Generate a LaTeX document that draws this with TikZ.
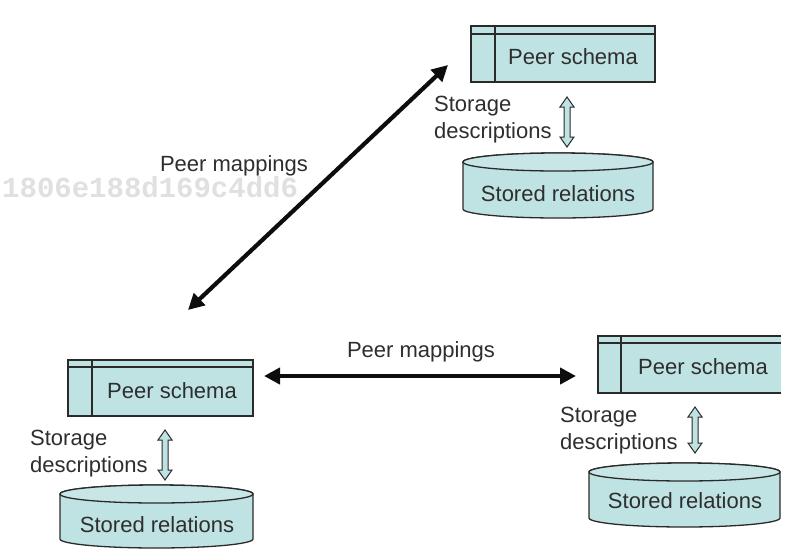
\documentclass[tikz,border=0pt]{standalone}
\usepackage{fontspec}
\setmainfont{Liberation Sans}
\newfontfamily\wmfont{Liberation Mono}
\usetikzlibrary{arrows.meta}
\definecolor{boxfill}{HTML}{BFE2E3}
\definecolor{edge}{HTML}{2A2A2A}
\definecolor{txt}{HTML}{2E2E2E}
\definecolor{wm}{HTML}{E0E0E0}
\tikzset{
  lab/.style={inner sep=0pt, text=txt, font=\fontsize{22}{27}\selectfont},
  outline/.style={draw=edge, line width=1.3pt},
  bigarrow/.style={draw=black!95, line width=4.2pt, {Triangle[length=16pt,width=16pt]}-{Triangle[length=16pt,width=16pt]}},
  hollowarrow/.style={fill=boxfill, draw=edge, line width=1pt, line join=miter}
}
\newcommand{\schemabox}[7]{% name, xl, xr, yt, yb, yheader, xvert
  \fill[boxfill] (#2,#4) rectangle (#3,#5);
  \draw[outline] (#2,#4) rectangle (#3,#5);
  \draw[outline] (#2,#6) -- (#3,#6);
  \draw[outline] (#7,#4) -- (#7,#5);
}
\newcommand{\cylshape}[5]{% xl, xr, ytop, ybottom, ry
  \pgfmathsetmacro{\cxa}{(#1+#2)/2}
  \pgfmathsetmacro{\rxa}{(#2-#1)/2}
  \pgfmathsetmacro{\yta}{#3+#5}
  \pgfmathsetmacro{\yba}{#4-#5}
  \path[fill=boxfill, outline] (#1,\yta) -- (#1,\yba) arc[start angle=180, end angle=0, x radius=\rxa, y radius=#5] -- (#2,\yta) arc[start angle=0, end angle=-180, x radius=\rxa, y radius=#5] -- cycle;
  \draw[outline, fill=boxfill!85!white] (\cxa,\yta) ellipse[x radius=\rxa, y radius=#5];
}
\newcommand{\dblarrow}[3]{% cx, cy, half length
  \draw[hollowarrow] (#1,#2-#3) -- ++(7,10) -- ++(-4,0) -- (#1+3,#2+#3-10) -- ++(4,0) -- (#1,#2+#3) -- ++(-7,-10) -- ++(4,0) -- (#1-3,#2-#3+10) -- ++(-4,0) -- cycle;
}
\begin{document}
\begin{tikzpicture}[x=1pt, y=-1pt]
\useasboundingbox (0,0) rectangle (809,550);
\fill[white] (0,0) rectangle (809,550);

% watermark
\node[inner sep=0pt, anchor=base west, text=wm, font=\wmfont\bfseries\fontsize{29}{30}\selectfont] (wmark) at (2,197) {1806e188d169c4dd6};

% top peer
\schemabox{ps1}{471}{655}{26}{82}{34}{495}
\node[lab] (ps1) at (573,57) {Peer schema};
\node[lab, align=left, anchor=west] (sd1) at (434,120) {Storage\\descriptions};
\dblarrow{567}{122}{25}
\cylshape{463}{653}{153}{218}{9}
\node[lab] (sr1) at (558,194) {Stored relations};

% bottom-left peer
\schemabox{ps2}{68}{253}{360}{416}{367}{92}
\node[lab] (ps2) at (172,391) {Peer schema};
\node[lab, align=left, anchor=west] (sd2) at (30,454) {Storage\\descriptions};
\dblarrow{165}{455}{25}
\cylshape{60}{253}{485}{548}{9}
\node[lab] (sr2) at (157,525) {Stored relations};

% bottom-right peer (right border not shown)
\fill[boxfill] (598,336) rectangle (781,393);
\draw[outline] (781,336) -- (598,336) -- (598,393) -- (781,393);
\draw[outline] (598,343) -- (781,343);
\draw[outline] (621,336) -- (621,393);
\node[lab] (ps3) at (703,367) {Peer schema};
\node[lab, align=left, anchor=west] (sd3) at (560,431) {Storage\\descriptions};
\dblarrow{695}{430}{23}
\cylshape{589}{780}{463}{527}{9}
\node[lab] (sr3) at (685,501) {Stored relations};

% peer mappings
\coordinate (dA) at (188,310);
\coordinate (dB) at (448,65);
\draw[bigarrow] (dA) -- (dB);
\node[lab] (pm1) at (234,166) {Peer mappings};

\coordinate (hA) at (264,376);
\coordinate (hB) at (576,376);
\draw[bigarrow] (hA) -- (hB);
\node[lab] (pm2) at (421,352) {Peer mappings};
\end{tikzpicture}
\end{document}
